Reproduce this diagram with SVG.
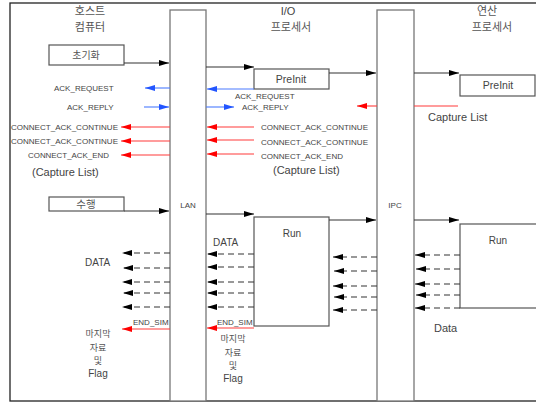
<svg xmlns="http://www.w3.org/2000/svg" width="536" height="404" viewBox="0 0 536 404">
<defs>
<style>
.k{font-family:"Noto Sans CJK KR","Liberation Sans",sans-serif;fill:#555;text-anchor:middle}
.t{font-family:"Liberation Sans","Noto Sans CJK KR",sans-serif;fill:#444}
.m{text-anchor:middle}
.s{font-size:8px}
.box{fill:#fff;stroke:#555;stroke-width:1.2}
.col{fill:#fff;stroke:#777;stroke-width:1.3}
.a{stroke:#333;stroke-width:1.1;fill:none;marker-end:url(#hk)}
.d{stroke:#333;stroke-width:1.1;fill:none;stroke-dasharray:6 4;marker-end:url(#hk)}
.b{stroke:#4a7bff;stroke-width:1.1;fill:none;marker-end:url(#hb)}
.r{stroke:#ff3b3b;stroke-width:1.1;fill:none;marker-end:url(#hr)}
.rn{stroke:#ff3b3b;stroke-width:1.1;fill:none}
</style>
<marker id="hk" viewBox="0 0 10 6" refX="10" refY="3" markerWidth="10" markerHeight="6" markerUnits="userSpaceOnUse" orient="auto"><path d="M0,0L10,3L0,6z" fill="#000"/></marker>
<marker id="hb" viewBox="0 0 10 6" refX="10" refY="3" markerWidth="10" markerHeight="6" markerUnits="userSpaceOnUse" orient="auto"><path d="M0,0L10,3L0,6z" fill="#2255ff"/></marker>
<marker id="hr" viewBox="0 0 10 6" refX="10" refY="3" markerWidth="10" markerHeight="6" markerUnits="userSpaceOnUse" orient="auto"><path d="M0,0L10,3L0,6z" fill="#ff0000"/></marker>
</defs>
<rect width="536" height="404" fill="#fff"/>
<rect x="10" y="3" width="540" height="398" fill="none" stroke="#222" stroke-width="1.3"/>

<g id="lan"><rect class="col" x="170" y="10" width="36" height="391"/><text class="t m s" x="188" y="208">LAN</text></g>
<g id="ipc"><rect class="col" x="377" y="10" width="37" height="391"/><text class="t m s" x="395" y="208">IPC</text></g>

<g id="headers">
<text class="k" font-size="11" x="90" y="15">호스트</text>
<text class="k" font-size="11" x="90" y="31">컴퓨터</text>
<text class="t m" font-size="11" x="288" y="15">I/O</text>
<text class="k" font-size="11" x="291" y="31">프로세서</text>
<text class="k" font-size="11" x="487" y="15">연산</text>
<text class="k" font-size="11" x="492" y="31">프로세서</text>
</g>

<g id="init"><rect class="box" x="49" y="45" width="75" height="20"/><text class="k" font-size="10" x="86" y="59">초기화</text></g>
<g id="run-host"><rect class="box" x="49" y="197" width="75" height="14"/><text class="k" font-size="10.5" x="86" y="208">수행</text></g>
<g id="preinit-io"><rect class="box" x="254" y="69" width="75" height="20"/><text class="t m" font-size="10.5" x="291" y="83">PreInit</text></g>
<g id="preinit-calc"><rect class="box" x="460" y="75" width="75" height="21"/><text class="t m" font-size="10.5" x="498" y="89">PreInit</text></g>
<g id="run-io"><rect class="box" x="254" y="217" width="75" height="109"/><text class="t m" font-size="10" x="292" y="237">Run</text></g>
<g id="run-calc"><rect class="box" x="460" y="224" width="80" height="84"/><text class="t m" font-size="10" x="498" y="244">Run</text></g>

<g id="connectors">
<path class="a" d="M124,63H169"/>
<path class="a" d="M206,67H254"/>
<path class="a" d="M329,73H376"/>
<path class="a" d="M414,73H459"/>
<path class="b" d="M170,88H145"/>
<path class="b" d="M254,89H207"/>
<path class="b" d="M144,107H169"/>
<path class="b" d="M206,107H234"/>
<path class="rn" d="M458,106H414"/>
<path class="r" d="M377,106H357"/>
<path class="r" d="M170,127H121"/>
<path class="r" d="M170,141H121"/>
<path class="r" d="M170,155H121"/>
<path class="r" d="M254,127H207"/>
<path class="r" d="M254,140H207"/>
<path class="r" d="M254,154H207"/>
<path class="a" d="M124,211H169"/>
<path class="a" d="M206,214H254"/>
<path class="a" d="M329,220H376"/>
<path class="a" d="M414,220H459"/>
<path class="d" d="M460,255H415"/>
<path class="d" d="M460,269H416"/>
<path class="d" d="M460,284H415"/>
<path class="d" d="M460,295H416"/>
<path class="d" d="M460,308H415"/>
<path class="d" d="M377,257H333"/>
<path class="d" d="M377,271H334"/>
<path class="d" d="M377,286H333"/>
<path class="d" d="M377,297H334"/>
<path class="d" d="M377,310H333"/>
<path class="d" d="M254,254H207"/>
<path class="d" d="M254,267H207"/>
<path class="d" d="M254,282H207"/>
<path class="d" d="M254,293H207"/>
<path class="d" d="M254,307H207"/>
<path class="d" d="M170,253H122"/>
<path class="d" d="M170,268H123"/>
<path class="d" d="M170,282H122"/>
<path class="d" d="M170,293H123"/>
<path class="d" d="M170,307H122"/>
<path class="r" d="M170,329H122"/>
<path class="r" d="M254,328H207"/>
</g>

<g id="labels">
<text class="t s" x="54" y="91">ACK_REQUEST</text>
<text class="t s" x="67" y="110">ACK_REPLY</text>
<text class="t s" x="235" y="99">ACK_REQUEST</text>
<text class="t s" x="242" y="110">ACK_REPLY</text>
<text class="t" font-size="11" x="428" y="121">Capture List</text>
<text class="t s" x="11" y="130" textLength="107" lengthAdjust="spacingAndGlyphs">CONNECT_ACK_CONTINUE</text>
<text class="t s" x="11" y="144" textLength="107" lengthAdjust="spacingAndGlyphs">CONNECT_ACK_CONTINUE</text>
<text class="t s" x="28" y="158" textLength="81" lengthAdjust="spacingAndGlyphs">CONNECT_ACK_END</text>
<text class="t" font-size="11" x="32" y="176">(Capture List)</text>
<text class="t s" x="261" y="130" textLength="107" lengthAdjust="spacingAndGlyphs">CONNECT_ACK_CONTINUE</text>
<text class="t s" x="261" y="145" textLength="107" lengthAdjust="spacingAndGlyphs">CONNECT_ACK_CONTINUE</text>
<text class="t s" x="261" y="159" textLength="82" lengthAdjust="spacingAndGlyphs">CONNECT_ACK_END</text>
<text class="t" font-size="11" x="273" y="174">(Capture List)</text>
<text class="t" font-size="10" x="213" y="246">DATA</text>
<text class="t" font-size="10" x="85" y="266">DATA</text>
<text class="t" font-size="11" x="434" y="332">Data</text>
<text class="t s" x="133" y="325">END_SIM</text>
<text class="t s" x="217" y="325">END_SIM</text>
<text class="k" font-size="9" x="98" y="337">마지막</text>
<text class="k" font-size="9" x="98" y="350.5">자료</text>
<text class="k" font-size="9" x="98" y="364">및</text>
<text class="t m" font-size="10" x="98" y="377">Flag</text>
<text class="k" font-size="9" x="233" y="342">마지막</text>
<text class="k" font-size="9" x="233" y="355.5">자료</text>
<text class="k" font-size="9" x="233" y="369">및</text>
<text class="t m" font-size="10" x="233" y="382">Flag</text>
</g>
</svg>
